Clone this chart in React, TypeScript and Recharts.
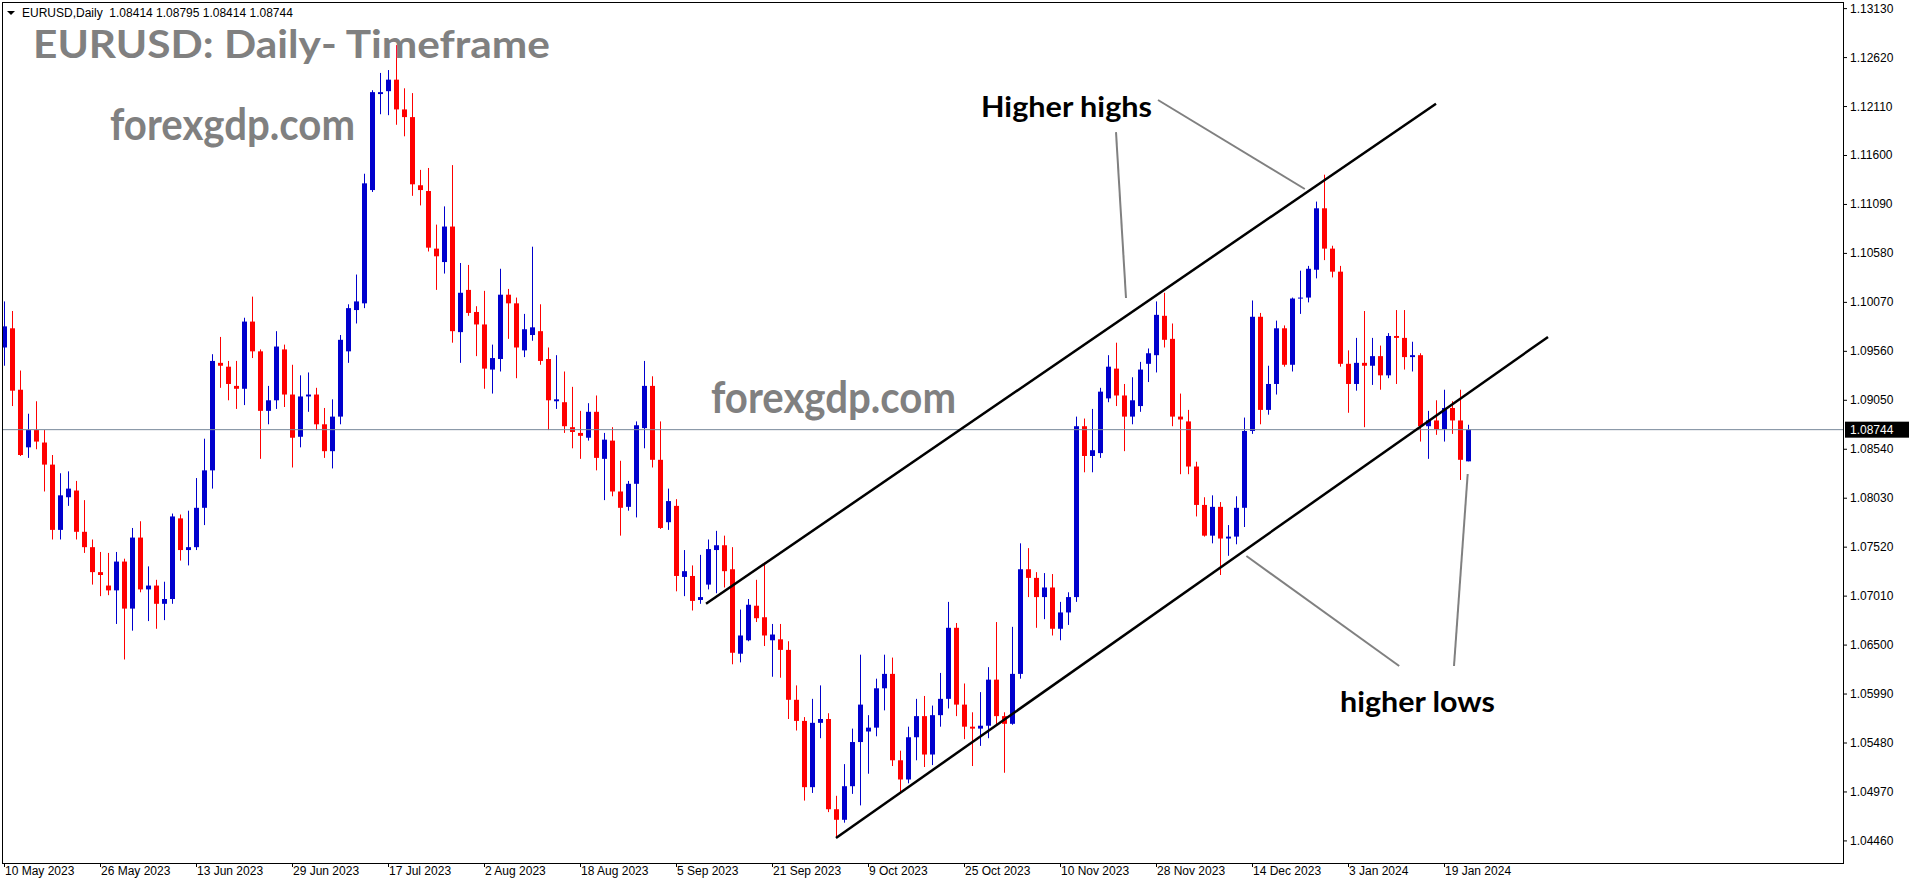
import React from 'react';
import { ComposedChart, Bar, XAxis, YAxis, ReferenceLine } from 'recharts';

// ---- data (EURUSD daily candles, index 0 = 10 May 2023) ----
const opens = [
  1.0960, 1.0980, 1.0916, 1.0856, 1.0874, 1.0861, 1.0838, 1.0770, 1.0804, 1.0811,
  1.0768, 1.0752, 1.0726, 1.0712, 1.0707, 1.0737, 1.0688, 1.0762, 1.0708, 1.0712,
  1.0693, 1.0698, 1.0782, 1.0749, 1.0752, 1.0793, 1.0832, 1.0944, 1.0940, 1.0920,
  1.0917, 1.0987, 1.0956, 1.0894, 1.0905, 1.0958, 1.0911, 1.0867, 1.0909, 1.0911,
  1.0880, 1.0852, 1.0888, 1.0956, 1.0999, 1.1006, 1.1124, 1.1224, 1.1227, 1.1239,
  1.1208, 1.1200, 1.1129, 1.1123, 1.1063, 1.1049, 1.1086, 1.0976, 1.1020, 1.0997,
  1.0984, 1.0937, 1.0948, 1.1015, 1.1006, 1.0957, 1.0973, 1.0977, 1.0948, 1.0904,
  1.0903, 1.0877, 1.0871, 1.0866, 1.0893, 1.0844, 1.0863, 1.0810, 1.0794, 1.0818,
  1.0876, 1.0920, 1.0843, 1.0778, 1.0795, 1.0721, 1.0722, 1.0697, 1.0713, 1.0749,
  1.0754, 1.0729, 1.0641, 1.0655, 1.0691, 1.0679, 1.0655, 1.0656, 1.0645, 1.0593,
  1.0571, 1.0502, 1.0569, 1.0573, 1.0479, 1.0468, 1.0503, 1.0549, 1.0560, 1.0564,
  1.0605, 1.0620, 1.0530, 1.0510, 1.0554, 1.0576, 1.0536, 1.0577, 1.0594, 1.0668,
  1.0588, 1.0565, 1.0563, 1.0566, 1.0614, 1.0576, 1.0568, 1.0620, 1.0729, 1.0720,
  1.0700, 1.0710, 1.0667, 1.0684, 1.0700, 1.0878, 1.0847, 1.0850, 1.0907, 1.0938,
  1.0910, 1.0888, 1.0899, 1.0943, 1.0952, 1.0993, 1.0969, 1.0888, 1.0883, 1.0836,
  1.0796, 1.0764, 1.0794, 1.0761, 1.0763, 1.0793, 1.0873, 1.0992, 1.0895, 1.0922,
  1.0980, 1.0942, 1.1011, 1.1012, 1.1041, 1.1105, 1.1063, 1.1039, 1.0943, 1.0922,
  1.0944, 1.0941, 1.0951, 1.0931, 1.0972, 1.0970, 1.0950, 1.0952, 1.0878, 1.0884,
  1.0875, 1.0897, 1.0884, 1.08414,
];
const highs = [
  1.1008, 1.0998, 1.0936, 1.0891, 1.0904, 1.0874, 1.0848, 1.0829, 1.0831, 1.0821,
  1.0801, 1.0760, 1.0747, 1.0746, 1.0747, 1.0740, 1.0772, 1.0779, 1.0732, 1.0718,
  1.0716, 1.0787, 1.0786, 1.0790, 1.0824, 1.0865, 1.0953, 1.0971, 1.0946, 1.0946,
  1.0991, 1.1013, 1.0958, 1.0920, 1.0977, 1.0963, 1.0942, 1.0931, 1.0934, 1.0918,
  1.0897, 1.0906, 1.0973, 1.1005, 1.1036, 1.1141, 1.1228, 1.1246, 1.1249, 1.1275,
  1.1230, 1.1225, 1.1145, 1.1147, 1.1088, 1.1107, 1.1150, 1.1048, 1.1046, 1.1003,
  1.1019, 1.0963, 1.1042, 1.1021, 1.1012, 1.0995, 1.1065, 1.1005, 1.0960, 1.0952,
  1.0935, 1.0919, 1.0894, 1.0902, 1.0910, 1.0871, 1.0877, 1.0842, 1.0821, 1.0883,
  1.0946, 1.0930, 1.0883, 1.0813, 1.0802, 1.0749, 1.0733, 1.0744, 1.0760, 1.0769,
  1.0764, 1.0752, 1.0687, 1.0698, 1.0718, 1.0736, 1.0672, 1.0672, 1.0654, 1.0608,
  1.0575, 1.0594, 1.0608, 1.0579, 1.0493, 1.0526, 1.0563, 1.0640, 1.0577, 1.0615,
  1.0640, 1.0637, 1.0540, 1.0565, 1.0594, 1.0597, 1.0587, 1.0621, 1.0695, 1.0673,
  1.0610, 1.0580, 1.0601, 1.0627, 1.0674, 1.0580, 1.0669, 1.0756, 1.0751, 1.0726,
  1.0725, 1.0724, 1.0695, 1.0705, 1.0888, 1.0886, 1.0896, 1.0918, 1.0952, 1.0965,
  1.0922, 1.0929, 1.0945, 1.0959, 1.1008, 1.1017, 1.0985, 1.0912, 1.0895, 1.0841,
  1.0804, 1.0806, 1.0799, 1.0775, 1.0805, 1.0887, 1.1009, 1.0996, 1.0941, 1.0988,
  1.0983, 1.1012, 1.1040, 1.1045, 1.1112, 1.1140, 1.1066, 1.1045, 1.0957, 1.0970,
  1.0998, 1.0970, 1.0962, 1.0975, 1.0999, 1.0999, 1.0966, 1.0954, 1.0894, 1.0905,
  1.0916, 1.0904, 1.0916, 1.08795,
];
const lows = [
  1.0941, 1.0899, 1.0847, 1.0845, 1.0854, 1.0810, 1.0760, 1.0760, 1.0795, 1.0760,
  1.0746, 1.0713, 1.0701, 1.0702, 1.0672, 1.0635, 1.0665, 1.0705, 1.0675, 1.0667,
  1.0676, 1.0693, 1.0738, 1.0733, 1.0749, 1.0775, 1.0813, 1.0918, 1.0905, 1.0896,
  1.0900, 1.0949, 1.0844, 1.0880, 1.0896, 1.0898, 1.0835, 1.0856, 1.0893, 1.0874,
  1.0845, 1.0834, 1.0880, 1.0944, 1.0985, 1.1001, 1.1122, 1.1203, 1.1202, 1.1192,
  1.1180, 1.1118, 1.1108, 1.1060, 1.1020, 1.1037, 1.0965, 1.0944, 1.0993, 1.0951,
  1.0917, 1.0912, 1.0935, 1.0969, 1.0928, 1.0950, 1.0967, 1.0942, 1.0874, 1.0896,
  1.0871, 1.0855, 1.0844, 1.0863, 1.0832, 1.0801, 1.0805, 1.0764, 1.0790, 1.0783,
  1.0855, 1.0835, 1.0771, 1.0770, 1.0706, 1.0701, 1.0686, 1.0693, 1.0708, 1.0704,
  1.0710, 1.0630, 1.0632, 1.0654, 1.0674, 1.0649, 1.0617, 1.0616, 1.0573, 1.0561,
  1.0488, 1.0496, 1.0553, 1.0476, 1.0449, 1.0465, 1.0495, 1.0483, 1.0516, 1.0555,
  1.0582, 1.0524, 1.0495, 1.0506, 1.0530, 1.0523, 1.0525, 1.0565, 1.0584, 1.0576,
  1.0552, 1.0524, 1.0545, 1.0553, 1.0566, 1.0517, 1.0567, 1.0615, 1.0700, 1.0668,
  1.0677, 1.0660, 1.0655, 1.0671, 1.0695, 1.0830, 1.0830, 1.0845, 1.0903, 1.0899,
  1.0852, 1.0880, 1.0893, 1.0924, 1.0934, 1.0960, 1.0878, 1.0828, 1.0828, 1.0784,
  1.0763, 1.0756, 1.0723, 1.0743, 1.0755, 1.0773, 1.0870, 1.0880, 1.0890, 1.0911,
  1.0940, 1.0935, 1.0995, 1.1007, 1.1032, 1.1051, 1.1033, 1.0940, 1.0892, 1.0915,
  1.0877, 1.0921, 1.0916, 1.0928, 1.0922, 1.0937, 1.0935, 1.0862, 1.0844, 1.0869,
  1.0862, 1.0870, 1.0822, 1.08414,
];
const closes = [
  1.0982, 1.0915, 1.0848, 1.0874, 1.0862, 1.0838, 1.0770, 1.0806, 1.0813, 1.0768,
  1.0752, 1.0726, 1.0723, 1.0707, 1.0737, 1.0688, 1.0762, 1.0708, 1.0712, 1.0693,
  1.0698, 1.0784, 1.0749, 1.0752, 1.0793, 1.0832, 1.0946, 1.0941, 1.0922, 1.0917,
  1.0987, 1.0956, 1.0894, 1.0905, 1.0961, 1.0911, 1.0866, 1.0909, 1.0911, 1.0880,
  1.0852, 1.0888, 1.0968, 1.1001, 1.1008, 1.1131, 1.1226, 1.1226, 1.1239, 1.1208,
  1.1200, 1.1130, 1.1124, 1.1064, 1.1055, 1.1086, 1.0977, 1.1017, 1.0996, 1.0984,
  1.0938, 1.0949, 1.1015, 1.1006, 1.0960, 1.0979, 1.0981, 1.0946, 1.0905, 1.0906,
  1.0878, 1.0872, 1.0868, 1.0893, 1.0845, 1.0864, 1.0810, 1.0793, 1.0818, 1.0879,
  1.0920, 1.0843, 1.0772, 1.0800, 1.0722, 1.0727, 1.0696, 1.0700, 1.0750, 1.0754,
  1.0727, 1.0642, 1.0660, 1.0692, 1.0678, 1.0660, 1.0661, 1.0645, 1.0593, 1.0571,
  1.0502, 1.0569, 1.0573, 1.0479, 1.0468, 1.0503, 1.0549, 1.0588, 1.0564, 1.0605,
  1.0620, 1.0530, 1.0510, 1.0554, 1.0576, 1.0536, 1.0577, 1.0594, 1.0668, 1.0588,
  1.0565, 1.0563, 1.0566, 1.0614, 1.0576, 1.0568, 1.0620, 1.0729, 1.0720, 1.0700,
  1.0710, 1.0667, 1.0684, 1.0700, 1.0878, 1.0847, 1.0853, 1.0914, 1.0940, 1.0910,
  1.0888, 1.0905, 1.0937, 1.0954, 1.0994, 1.0968, 1.0888, 1.0885, 1.0836, 1.0796,
  1.0764, 1.0794, 1.0761, 1.0763, 1.0793, 1.0873, 1.0992, 1.0895, 1.0922, 1.0980,
  1.0942, 1.1011, 1.1012, 1.1042, 1.1105, 1.1063, 1.1039, 1.0943, 1.0922, 1.0944,
  1.0941, 1.0951, 1.0931, 1.0972, 1.0970, 1.0950, 1.0952, 1.0878, 1.0884, 1.0875,
  1.0897, 1.0884, 1.0843, 1.08744,
];

const xTickIndex = [0, 12, 24, 36, 48, 60, 72, 84, 96, 108, 120, 132, 144, 156, 168, 180];
const xTickLabels = [
  '10 May 2023', '26 May 2023', '13 Jun 2023', '29 Jun 2023', '17 Jul 2023', '2 Aug 2023',
  '18 Aug 2023', '5 Sep 2023', '21 Sep 2023', '9 Oct 2023', '25 Oct 2023', '10 Nov 2023',
  '28 Nov 2023', '14 Dec 2023', '3 Jan 2024', '19 Jan 2024',
];
const yTickLabels = [
  '1.04460', '1.04970', '1.05480', '1.05990', '1.06500', '1.07010', '1.07520', '1.08030', '1.08540',
  '1.09050', '1.09560', '1.10070', '1.10580', '1.11090', '1.11600', '1.12110', '1.12620', '1.13130',
];
const yTicks = yTickLabels.map((s) => parseFloat(s));

const lastPrice = 1.08744;
const lastPriceLabel = '1.08744';
const headerText = 'EURUSD,Daily  1.08414 1.08795 1.08414 1.08744';

// channel lines and annotation pointers (bar index, price)
const upperChannel = [{ x: 87.75, y: 1.0693 }, { x: 179, y: 1.1214 }];
const lowerChannel = [{ x: 104, y: 1.0449 }, { x: 193, y: 1.0971 }];
const pointerHH1 = [{ x: 144.25, y: 1.12178 }, { x: 162.6, y: 1.11251 }];
const pointerHH2 = [{ x: 139.0, y: 1.11844 }, { x: 140.25, y: 1.10116 }];
const pointerHL1 = [{ x: 155.3, y: 1.07428 }, { x: 174.4, y: 1.06282 }];
const pointerHL2 = [{ x: 182.96, y: 1.08282 }, { x: 181.25, y: 1.06282 }];

const data = opens.map((o, i) => ({ i, o, c: closes[i], range: [lows[i], highs[i]] }));

const X_DOMAIN = [-0.25, 229.875];
const Y_DOMAIN = [1.0423, 1.13199];
const AXIS_FONT = '"Liberation Sans", Arial, sans-serif';
const BIG_FONT = 'Lato, "Open Sans", sans-serif';
const BULL = '#0000CD';
const BEAR = '#FF0000';

const Candle = (props: any) => {
  const { x, y, width, height, payload } = props;
  if (!payload || !Array.isArray(payload.range)) return null;
  const lo = payload.range[0];
  const hi = payload.range[1];
  const top = Math.min(y, y + height);
  const h = Math.abs(height);
  const k = hi - lo > 0 ? h / (hi - lo) : 0;
  const cx = Math.round(x + width / 2) + 0.5;
  const up = payload.c >= payload.o;
  const color = up ? BULL : BEAR;
  const yO = top + (hi - payload.o) * k;
  const yC = top + (hi - payload.c) * k;
  const bTop = Math.min(yO, yC);
  const bH = Math.max(1, Math.abs(yC - yO));
  return (
    <g>
      <line x1={cx} x2={cx} y1={top} y2={top + h} stroke={color} strokeWidth={1} />
      <rect x={cx - 2.5} y={bTop} width={5} height={bH} fill={color} />
    </g>
  );
};

const XTick = (props: any) => {
  const { x, y, payload } = props;
  const idx = xTickIndex.indexOf(payload.value);
  const label = idx >= 0 ? xTickLabels[idx] : '';
  return (
    <g>
      <line x1={x + 0.5} x2={x + 0.5} y1={y - 4} y2={y} stroke="#000" strokeWidth={1} />
      <text x={x + 1} y={y + 8} fontSize={12} fontFamily={AXIS_FONT} fill="#000" textAnchor="start">
        {label}
      </text>
    </g>
  );
};

const YTick = (props: any) => {
  const { x, y, payload } = props;
  const idx = yTicks.indexOf(payload.value);
  const label = idx >= 0 ? yTickLabels[idx] : Number(payload.value).toFixed(5);
  return (
    <text x={x} y={y} dy={4} fontSize={12} fontFamily={AXIS_FONT} fill="#000" textAnchor="start">
      {label}
    </text>
  );
};

const PriceTag = (props: any) => {
  const vb = props.viewBox || {};
  const x = (vb.x || 0) + (vb.width || 0);
  const y = vb.y || 0;
  return (
    <g>
      <rect x={x + 2} y={y - 8} width={64} height={16} fill="#000" />
      <text x={x + 7} y={y + 4} fontSize={12} fontFamily={AXIS_FONT} fill="#fff">
        {lastPriceLabel}
      </text>
    </g>
  );
};

export default function App() {
  return (
    <div style={{ position: 'absolute', left: 0, top: 0, width: 1916, height: 884, background: '#fff' }}>
      <ComposedChart
        width={1916}
        height={884}
        data={data}
        margin={{ top: 2, right: 0, bottom: 0, left: 2 }}
      >
        <XAxis
          dataKey="i"
          type="number"
          domain={X_DOMAIN}
          ticks={xTickIndex}
          interval={0}
          allowDataOverflow
          height={21}
          axisLine={false}
          tickLine={false}
          tickSize={4}
          tickMargin={0}
          tick={<XTick />}
        />
        <YAxis
          orientation="right"
          type="number"
          domain={Y_DOMAIN}
          ticks={yTicks}
          interval={0}
          allowDataOverflow
          width={73}
          axisLine={false}
          tickLine={{ stroke: '#000' }}
          tickSize={4}
          tickMargin={3}
          tick={<YTick />}
        />
        <ReferenceLine y={lastPrice} stroke="#778899" strokeWidth={1} label={<PriceTag />} />
        <Bar dataKey="range" barSize={5} isAnimationActive={false} shape={(p: any) => <Candle {...p} />} />
        <ReferenceLine segment={upperChannel} stroke="#000" strokeWidth={2.5} />
        <ReferenceLine segment={lowerChannel} stroke="#000" strokeWidth={2.5} />
        <ReferenceLine segment={pointerHH1} stroke="#808080" strokeWidth={2} />
        <ReferenceLine segment={pointerHH2} stroke="#808080" strokeWidth={2} />
        <ReferenceLine segment={pointerHL1} stroke="#808080" strokeWidth={2} />
        <ReferenceLine segment={pointerHL2} stroke="#808080" strokeWidth={2} />
      </ComposedChart>
      <div
        style={{
          position: 'absolute', left: 2, top: 2, width: 1842, height: 862,
          border: '1px solid #000', boxSizing: 'border-box', pointerEvents: 'none',
        }}
      />
      <svg width={1916} height={884} style={{ position: 'absolute', left: 0, top: 0, pointerEvents: 'none' }}>
        <path d="M7 11 L15 11 L11 15 Z" fill="#000" />
        <text x={22} y={17} fontSize={12} fontFamily={AXIS_FONT} fill="#000" style={{ whiteSpace: 'pre' }}>
          {headerText}
        </text>
        <text x={33} y={58} fontSize={39} fontWeight={700} fontFamily={BIG_FONT} fill="#808080"
          textLength={517} lengthAdjust="spacingAndGlyphs">EURUSD: Daily- Timeframe</text>
        <text x={110} y={140} fontSize={43} fontWeight={700} fontFamily={BIG_FONT} fill="#808080"
          textLength={245} lengthAdjust="spacingAndGlyphs">forexgdp.com</text>
        <text x={711} y={413} fontSize={43} fontWeight={700} fontFamily={BIG_FONT} fill="#808080"
          textLength={245} lengthAdjust="spacingAndGlyphs">forexgdp.com</text>
        <text x={981} y={117} fontSize={28} fontWeight={700} fontFamily={BIG_FONT} fill="#000"
          textLength={171} lengthAdjust="spacingAndGlyphs">Higher highs</text>
        <text x={1340} y={712} fontSize={28} fontWeight={700} fontFamily={BIG_FONT} fill="#000"
          textLength={155} lengthAdjust="spacingAndGlyphs">higher lows</text>
      </svg>
    </div>
  );
}
